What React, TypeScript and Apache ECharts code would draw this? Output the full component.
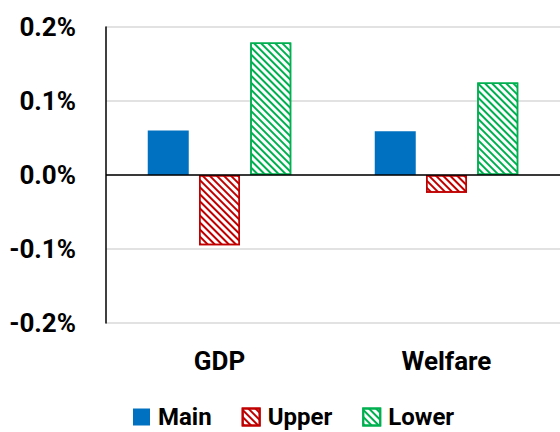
import React, { useEffect, useRef } from "react";
import * as echarts from "echarts";

const categories = ["GDP", "Welfare"];
const mainValues = [0.06, 0.059];
const upperValues = [-0.095, -0.024];
const lowerValues = [0.179, 0.125];
const yMin = -0.2;
const yMax = 0.2;
const yInterval = 0.1;

const FONT = "Roboto, 'Noto Sans', sans-serif";

function hatch(color: string) {
  return {
    symbol: "rect",
    color: color,
    backgroundColor: "#ffffff",
    dashArrayX: [1, 0],
    dashArrayY: [1.5, 2.3],
    rotation: Math.PI / 4,
    symbolSize: 1,
  };
}

export default function App() {
  const ref = useRef<HTMLDivElement>(null);
  useEffect(() => {
    if (!ref.current) return;
    const chart = echarts.init(ref.current, undefined, { renderer: "svg" });
    chart.setOption({
      animation: false,
      backgroundColor: "#ffffff",
      grid: { left: 106, right: -5, top: 27, bottom: 109, containLabel: false },
      legend: {
        top: 405,
        left: 133,
        padding: 0,
        icon: "rect",
        itemWidth: 17,
        itemHeight: 17,
        itemGap: 30,
        textStyle: {
          fontFamily: FONT,
          fontWeight: "bold",
          fontSize: 24,
          lineHeight: 20,
          color: "#000",
          padding: [0, 0, 0, 3],
        },
        data: ["Main", "Upper", "Lower"],
      },
      xAxis: {
        type: "category",
        data: categories,
        axisLine: { show: false },
        axisTick: { show: false },
        axisLabel: { margin: 25, fontFamily: FONT, fontWeight: "bold", fontSize: 26, color: "#000" },
      },
      yAxis: {
        type: "value",
        min: yMin,
        max: yMax,
        interval: yInterval,
        axisLine: { show: true, lineStyle: { color: "#000", width: 1.5 } },
        axisTick: { show: false },
        splitLine: { show: true, lineStyle: { color: "#d9d9d9", width: 1.5 } },
        axisLabel: {
          margin: 30,
          fontFamily: FONT,
          fontWeight: "bold",
          fontSize: 26,
          color: "#000",
          formatter: (v: number) => v.toFixed(1) + "%",
        },
      },
      series: [
        {
          name: "Main",
          type: "bar",
          data: mainValues,
          barWidth: 41,
          barGap: "25%",
          itemStyle: { color: "#0070C0" },
          markLine: {
            silent: true,
            symbol: "none",
            label: { show: false },
            lineStyle: { color: "#000", width: 1.6, type: "solid" },
            data: [{ yAxis: 0 }],
          },
        },
        {
          name: "Upper",
          type: "bar",
          data: upperValues,
          barWidth: 41,
          barGap: "25%",
          itemStyle: {
            color: "#ffffff",
            borderColor: "#C00000",
            borderWidth: 1.5,
            decal: hatch("#C00000"),
          },
        },
        {
          name: "Lower",
          type: "bar",
          data: lowerValues,
          barWidth: 41,
          barGap: "25%",
          itemStyle: {
            color: "#ffffff",
            borderColor: "#00B050",
            borderWidth: 1.5,
            decal: hatch("#00B050"),
          },
        },
      ],
    });
    return () => chart.dispose();
  }, []);
  return <div ref={ref} style={{ width: 560, height: 432, position: "absolute", left: 0, top: 0 }} />;
}
